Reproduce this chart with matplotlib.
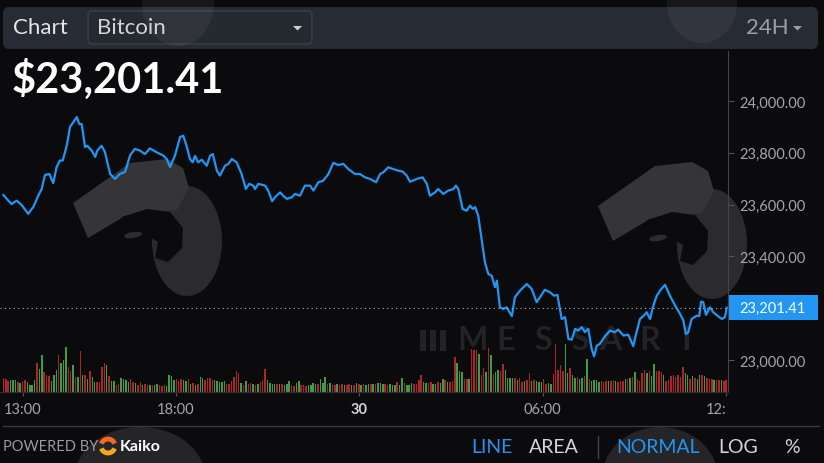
import numpy as np
import matplotlib.pyplot as plt
from matplotlib.patches import FancyBboxPatch, Polygon, Ellipse, Arc, Rectangle

plt.rcParams['font.family'] = ['Lato', 'DejaVu Sans']

# BTC price: hours since 00:00 on the 29th, USD
price_hours = [
    12.36, 12.52, 12.63, 12.79, 12.96, 13.17, 13.34, 13.50, 13.61, 13.72,
    13.86, 13.99, 14.10, 14.21, 14.30, 14.43, 14.54, 14.65, 14.76, 14.84,
    14.92, 15.03, 15.10, 15.25, 15.36, 15.43, 15.57, 15.68, 15.85, 16.01,
    16.17, 16.34, 16.50, 16.66, 16.83, 16.99, 17.15, 17.37, 17.59, 17.70,
    17.81, 17.97, 18.14, 18.24, 18.35, 18.46, 18.55, 18.63, 18.73, 18.85,
    19.01, 19.12, 19.21, 19.34, 19.44, 19.61, 19.72, 19.83, 19.99, 20.15,
    20.29, 20.40, 20.53, 20.59, 20.70, 20.92, 21.02, 21.15, 21.24, 21.41,
    21.51, 21.63, 21.79, 21.90, 22.06, 22.22, 22.39, 22.50, 22.66, 22.82,
    22.99, 23.15, 23.31, 23.48, 23.64, 23.86, 24.02, 24.19, 24.35, 24.55,
    24.68, 24.79, 24.95, 25.11, 25.28, 25.42, 25.55, 25.66, 25.88, 26.07,
    26.21, 26.31, 26.48, 26.58, 26.75, 26.91, 27.08, 27.16, 27.24, 27.38,
    27.51, 27.62, 27.71, 27.79, 27.89, 28.00, 28.11, 28.22, 28.33, 28.44,
    28.50, 28.60, 28.71, 28.82, 28.99, 29.09, 29.26, 29.48, 29.64, 29.80,
    29.91, 30.07, 30.24, 30.37, 30.48, 30.62, 30.73, 30.84, 30.95, 31.06,
    31.16, 31.28, 31.38, 31.49, 31.60, 31.68, 31.77, 31.87, 32.04, 32.20,
    32.36, 32.47, 32.64, 32.80, 32.96, 33.07, 33.18, 33.29, 33.40, 33.51,
    33.62, 33.73, 33.84, 34.00, 34.16, 34.33, 34.49, 34.60, 34.68, 34.76,
    34.87, 35.04, 35.12, 35.18, 35.25, 35.34, 35.47, 35.58, 35.71, 35.86,
    35.96, 36.02,
]
price = [
    23637, 23615, 23602, 23615, 23598, 23564, 23591, 23634, 23660, 23714,
    23718, 23683, 23745, 23770, 23770, 23827, 23900, 23919, 23938, 23911,
    23911, 23822, 23827, 23808, 23784, 23808, 23827, 23803, 23718, 23699,
    23718, 23726, 23789, 23815, 23808, 23795, 23817, 23802, 23789, 23776,
    23745, 23789, 23861, 23866, 23827, 23776, 23763, 23788, 23763, 23773,
    23750, 23789, 23795, 23731, 23712, 23750, 23757, 23776, 23763, 23718,
    23660, 23680, 23673, 23660, 23680, 23673, 23654, 23613, 23628, 23647,
    23634, 23622, 23628, 23641, 23634, 23673, 23673, 23654, 23686, 23692,
    23718, 23761, 23753, 23757, 23737, 23718, 23718, 23705, 23699, 23686,
    23718, 23725, 23744, 23737, 23731, 23727, 23712, 23688, 23699, 23705,
    23680, 23634, 23647, 23660, 23641, 23654, 23660, 23673, 23660, 23583,
    23576, 23596, 23583, 23590, 23557, 23467, 23377, 23332, 23325, 23281,
    23306, 23203, 23197, 23203, 23169, 23242, 23268, 23293, 23274, 23223,
    23242, 23271, 23261, 23248, 23251, 23158, 23165, 23081, 23078, 23120,
    23113, 23126, 23107, 23120, 23042, 23014, 23055, 23062, 23092, 23113,
    23107, 23117, 23094, 23097, 23053, 23107, 23158, 23169, 23184, 23158,
    23210, 23248, 23268, 23290, 23248, 23210, 23178, 23152, 23100, 23107,
    23158, 23171, 23169, 23225, 23223, 23174, 23203, 23184, 23171, 23158,
    23165, 23201.41,
]

# traded volume per candle (relative units) and candle direction
volume = [
    14, 13, 11, 12, 12, 12, 10, 9, 11, 12, 10, 7, 7, 12, 29, 23, 37, 20, 17, 16,
    11, 17, 22, 37, 29, 32, 45, 25, 21, 27, 15, 15, 41, 17, 17, 13, 21, 15, 10, 10,
    10, 25, 29, 27, 16, 11, 11, 7, 8, 14, 13, 12, 10, 13, 10, 9, 7, 10, 7, 8,
    7, 7, 7, 7, 8, 7, 6, 7, 6, 17, 16, 12, 13,
    11, 13, 12, 11, 13, 8, 9, 7, 8, 15, 14, 12, 14, 14, 12, 12, 11, 10, 10, 11,
    8, 8, 11, 15, 21, 19, 9, 7, 11, 8, 9, 8, 7, 8, 10, 12, 23, 12, 9, 8,
    8, 8, 8, 8, 7, 8, 11, 7, 6, 9, 11, 7, 7, 6, 7, 7, 9, 8, 8, 13,
    9, 15, 8, 9, 7, 7, 8, 7, 8, 7, 7, 8, 7, 7, 9,
    8, 7, 8, 7, 8, 8, 8, 8, 9, 9, 8, 8, 7, 8, 7, 7, 10, 7, 14, 9,
    7, 7, 9, 8, 8, 12, 17, 10, 9, 9, 10, 8, 8, 10, 9, 13, 12, 10, 10, 11,
    35, 29, 21, 20, 13, 13, 13, 43, 42, 42, 38, 17, 24, 20, 44, 37, 18, 20, 22, 21,
    28, 22, 14, 14, 14, 14, 12, 14, 10, 11, 12, 19, 11, 12, 11, 10,
    10, 13, 8, 9, 8, 18, 48, 22, 27, 21, 48, 19, 24, 17, 14, 15, 13, 14, 16, 33,
    13, 11, 12, 12, 10, 11, 10, 11, 11, 11, 12, 11, 10, 11, 11, 13, 13, 14, 15, 20,
    13, 11, 19, 22, 19, 21, 16, 28, 21, 21, 20, 17, 11, 12, 16, 17, 15, 17, 15, 25,
    19, 17, 13, 16, 14, 13, 17, 17, 16, 14, 13, 13, 12, 12, 12, 12, 11, 12,
]
candle = (
    "rrrgggrgrrggggrggrrrgggrgggrrgrgrgrgrggrrrrgrggrrggggrrgrrgrrgrggrrrggggr"
    "rrggrgrgrggrrrrgggggrrrrrrgrgrrgrgrrrggggrgrgggrrggrrrggggrgggrgrrgrrgrrgrg"
    "rgrggrgrgggrrgggrggrgggrrrrggrrggrggrgrrrgggrrgrrrgrrgrgrggrrggggrgrrgrrgrgg"
    "grrggrrrrrggrggrggrgrggggrrrgrrgrrrgrgrgrrrrgrggrrrgrrrrrrrrggrgrggrgrrrgrrgrr"
)
vol_start, vol_end = 12.36, 36.0

y_ticks = [23000, 23400, 23600, 23800, 24000]
x_ticks = [13, 18, 24, 30, 36]
x_labels = ["13:00", "18:00", "30", "06:00", "12:"]

BG = '#0b0b0d'
BAR = '#272b33'
BLUE = '#2196f3'
RED = '#ad2626'
GREEN = '#3d9c45'
W, H = 824, 464

fig = plt.figure(figsize=(W / 100, H / 100), dpi=100, facecolor=BG)

# full-figure layer in pixel units for the page chrome
bg = fig.add_axes([0, 0, 1, 1], zorder=0)
bg.set_xlim(0, W)
bg.set_ylim(H, 0)
bg.axis('off')


def logo(dx, dy):
    # rough Messari watermark, drawn for the right-hand copy and shifted
    def pts(p):
        return [(x + dx, y + dy) for x, y in p]
    bg.add_patch(Ellipse((712 + dx, 245 + dy), 70, 110, fc='#2b2b2d', ec='none'))
    bg.add_patch(Polygon(pts([(598, 207), (655, 167), (692, 163), (708, 172),
                              (714, 192), (702, 214), (650, 220), (613, 242)]),
                         fc='#353537', ec='none'))
    bg.add_patch(Polygon(pts([(647, 221), (672, 213), (695, 216), (708, 232),
                              (707, 252), (693, 266), (680, 262), (683, 246),
                              (668, 237), (655, 232)]),
                         fc=BG, ec='none'))
    bg.add_patch(Ellipse((658 + dx, 239 + dy), 18, 6, angle=-10,
                         fc='#2d2d2f', ec='none'))


logo(-525, -3)
logo(0, 0)
bg.add_patch(Ellipse((140, 478), 130, 100, fc='#252527', ec='none'))
bg.add_patch(Ellipse((660, 478), 115, 100, fc='#252527', ec='none'))

for i, ch in enumerate("MESSARI"):
    bg.text([473, 506, 543, 580, 610, 650, 686][i], 341, ch, fontsize=23,
            fontweight='bold', color='#232325', ha='center', va='center')
for bx in (420, 430, 440):
    bg.add_patch(Rectangle((bx, 331), 6, 21, fc='#232325', ec='none'))

# header bar
bg.add_patch(FancyBboxPatch((3, 8), 815, 42, boxstyle='round,pad=0,rounding_size=6',
                            fc=BAR, ec='none'))
bg.add_patch(FancyBboxPatch((88, 12), 224, 33, boxstyle='round,pad=0,rounding_size=4',
                            fc='#252930', ec='#3b3f47', lw=1))
bg.add_patch(Ellipse((178, 4), 72, 86, fc='white', alpha=0.05, ec='none'))
bg.add_patch(Ellipse((702, 4), 70, 80, fc='white', alpha=0.05, ec='none'))
bg.text(13, 28, 'Chart', fontsize=16, color='#e6e6e6', va='center')
bg.text(97, 28, 'Bitcoin', fontsize=16, color='#d4d4d4', va='center')
bg.add_patch(Polygon([(293, 27), (302, 27), (297.5, 31.5)], fc='#cfcfcf', ec='none'))
bg.text(746, 28, '24H', fontsize=16, color='#9a9ea6', va='center')
bg.add_patch(Polygon([(793, 27), (802, 27), (797.5, 31.5)], fc='#9a9ea6', ec='none'))
bg.text(12, 79, f"${price[-1]:,.2f}", fontsize=30, fontweight='bold',
        color='white', va='center')

# footer
bg.plot([3, 819], [427, 427], color='#3a3a3a', lw=1)
bg.text(3, 447, 'POWERED BY', fontsize=10.5, color='#9a9a9a', va='center')
bg.add_patch(Arc((108, 447), 14, 14, theta1=20, theta2=160, color='#f7a520', lw=3.5))
bg.add_patch(Arc((108, 447), 14, 14, theta1=200, theta2=340, color='#f26b21', lw=3.5))
bg.text(120, 447, 'Kaiko', fontsize=11.5, fontweight='bold', color='white', va='center')
for x, s, c in [(471, 'LINE', BLUE), (529, 'AREA', '#d6d6d6'), (616, 'NORMAL', BLUE),
                (718, 'LOG', '#d6d6d6'), (784, '%', '#d6d6d6')]:
    bg.text(x, 448, s, fontsize=14, color=c, va='center')
bg.plot([598, 598], [437, 459], color='#444444', lw=1)

# plot area
rect = [0, 71 / H, 728 / W, 341 / H]
vax = fig.add_axes(rect, zorder=1)
vax.patch.set_alpha(0)
vax.axis('off')
ax = fig.add_axes(rect, zorder=2)
ax.patch.set_alpha(0)

n = min(len(volume), len(candle))
vol_x = np.linspace(vol_start, vol_end, n)
step = vol_x[1] - vol_x[0]
vax.bar(vol_x, volume[:n], width=step * 0.62, linewidth=0,
        color=[GREEN if c == 'g' else RED for c in candle[:n]])
vax.set_ylim(0, max(volume) * 7.1)

ax.plot(price_hours, price, color=BLUE, lw=1.6, solid_joinstyle='round')
ax.axhline(price[-1], color='#9ab4c8', lw=0.8, ls=(0, (1, 3)))

ax.set_xlim(12.248, 36.06)
ax.set_ylim(22876, 24193)
vax.set_xlim(ax.get_xlim())

ax.yaxis.tick_right()
ax.set_yticks(y_ticks)
ax.set_yticklabels([f"{v:,.2f}" for v in y_ticks])
ax.set_xticks(x_ticks)
ax.set_xticklabels(x_labels)
ax.tick_params(axis='y', colors='#555555', labelcolor='#a6a6a6', length=4,
               pad=4, labelsize=10.5)
ax.tick_params(axis='x', colors='#555555', labelcolor='#a6a6a6', length=3,
               pad=4.5, labelsize=10.5)
labels = ax.get_xticklabels()
labels[2].set_fontweight('bold')
labels[2].set_color('#d6d6d6')
labels[-1].set_horizontalalignment('right')

for side in ('left', 'top'):
    ax.spines[side].set_visible(False)
ax.spines['right'].set_color('#444444')
ax.spines['bottom'].set_color('#2c2c2c')

# last-price tag on the price scale
y_tag = H - ax.transData.transform((0, price[-1]))[1]
bg.add_patch(Rectangle((728, y_tag - 12.5), 90, 25, fc=BLUE, ec='none', zorder=5))
bg.text(739, y_tag, f"{price[-1]:,.2f}", fontsize=10.5, color='white',
        va='center', zorder=6)

fig.savefig('out.png', dpi=100, facecolor=BG)
